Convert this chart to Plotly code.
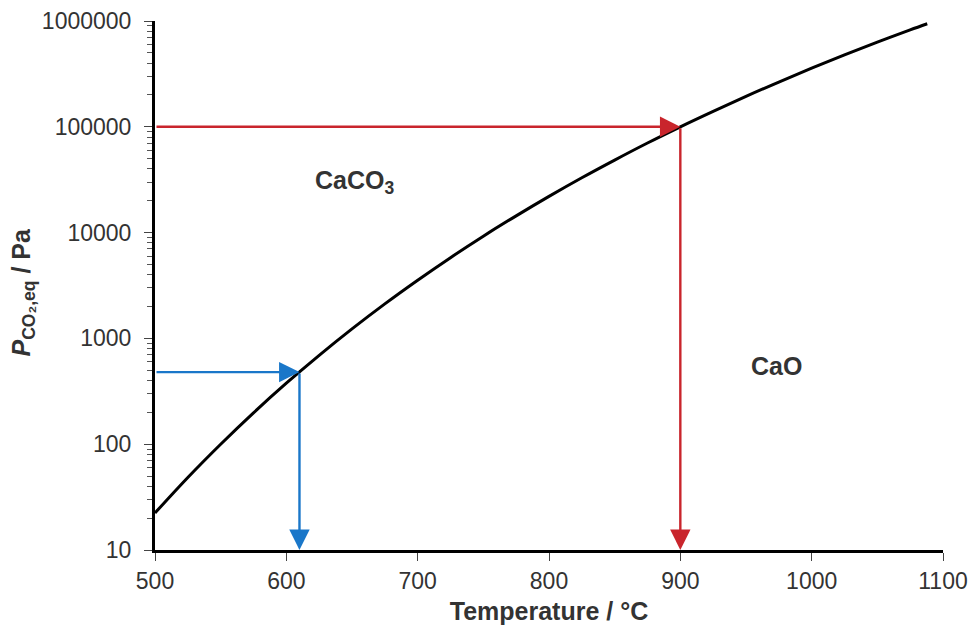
import math
import plotly.graph_objects as go

# Equilibrium CO2 pressure over CaCO3 vs temperature
temp_c = [500, 525, 550, 575, 600, 625, 650, 675, 700, 725, 750, 775, 800,
          825, 850, 875, 900, 925, 950, 975, 1000, 1025, 1050, 1075, 1088]
p_co2 = [22.4, 48.5, 100, 198, 377, 692, 1230, 2120, 3550, 5800, 9250, 14400, 22000,
         33000, 48500, 70300, 100000, 140000, 194000, 265000, 358000, 478000, 631000,
         824000, 942000]

# Read-off arrows (temperature, pressure)
red_T, red_P = 900, 100000
blue_T, blue_P = 610, 480

y_tick_vals = [10, 100, 1000, 10000, 100000, 1000000]
y_tick_text = ["10", "100", "1000", "10000", "100000", "1000000"]
x_tick_vals = [500, 600, 700, 800, 900, 1000, 1100]

X_MIN, X_MAX = 500, 1100
Y_MIN, Y_MAX = 10, 1000000

minor_vals = [m * 10 ** e for e in range(1, 6) for m in range(2, 10)]

FONT = "Liberation Sans, Arial, sans-serif"
TXT = "#333333"
RED = "#C9252C"
BLUE = "#1A77C9"

fig = go.Figure()
fig.add_trace(go.Scatter(x=temp_c, y=p_co2, mode="lines",
                         line=dict(color="black", width=3, shape="spline"),
                         showlegend=False, hoverinfo="skip"))


def arrow(x0, y0, x1, y1, color):
    fig.add_annotation(x=x1, y=math.log10(y1), ax=x0, ay=math.log10(y0),
                       xref="x", yref="y", axref="x", ayref="y",
                       text="", showarrow=True, arrowhead=2, arrowsize=1.7,
                       arrowwidth=2.4, arrowcolor=color, standoff=0, startstandoff=0)


arrow(X_MIN, red_P, red_T, red_P, RED)
arrow(red_T, red_P, red_T, Y_MIN, RED)
arrow(X_MIN, blue_P, blue_T, blue_P, BLUE)
arrow(blue_T, blue_P, blue_T, Y_MIN, BLUE)

fig.add_annotation(x=652, y=math.log10(29900), xref="x", yref="y",
                   text="<b>CaCO<sub>3</sub></b>", showarrow=False,
                   font=dict(family=FONT, size=25, color=TXT))
fig.add_annotation(x=973, y=math.log10(552), xref="x", yref="y",
                   text="<b>CaO</b>", showarrow=False,
                   font=dict(family=FONT, size=25, color=TXT))

fig.add_annotation(x=-0.168, y=0.488, xref="paper", yref="paper", textangle=-90,
                   xanchor="center", yanchor="middle",
                   text="<b><i>P</i><sub>CO₂,eq</sub> / Pa</b>", showarrow=False,
                   font=dict(family=FONT, size=25, color=TXT))

fig.update_xaxes(range=[X_MIN, X_MAX], tickvals=x_tick_vals, automargin=False,
                 ticks="outside", ticklen=8, tickwidth=1, tickcolor="#444",
                 showline=True, linewidth=3, linecolor="black",
                 showgrid=False, zeroline=False,
                 tickfont=dict(family=FONT, size=23, color=TXT),
                 title=dict(text="<b>Temperature / °C</b>", standoff=10,
                            font=dict(family=FONT, size=25, color=TXT)))
fig.update_yaxes(type="log", range=[math.log10(Y_MIN), math.log10(Y_MAX)],
                 tickvals=y_tick_vals, ticktext=y_tick_text, automargin=False,
                 ticks="outside", ticklen=8, tickwidth=1, tickcolor="#444",
                 ticklabelstandoff=8,
                 minor=dict(tickvals=minor_vals, ticks="outside", ticklen=5,
                            tickwidth=1, tickcolor="#555", showgrid=False),
                 showline=True, linewidth=3, linecolor="black",
                 showgrid=False, zeroline=False,
                 tickfont=dict(family=FONT, size=23, color=TXT))

fig.update_layout(width=972, height=626, margin=dict(l=155, r=29, t=21, b=76),
                  plot_bgcolor="white", paper_bgcolor="white")

fig.write_html("out.html")
